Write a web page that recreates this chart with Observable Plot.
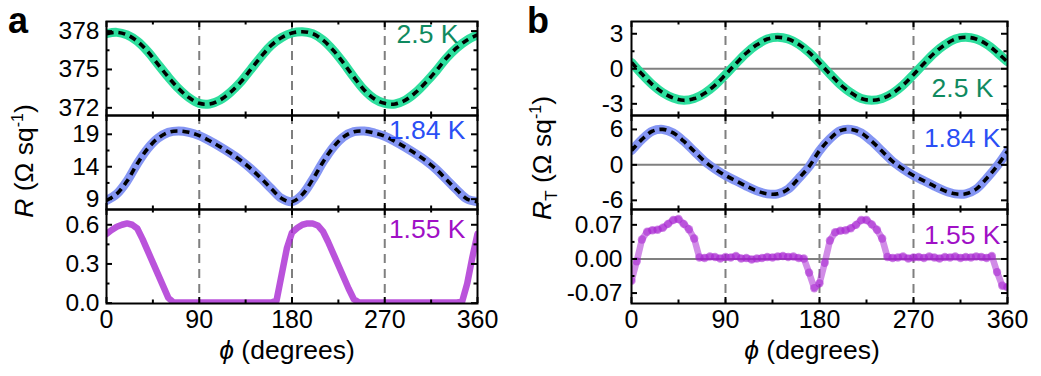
<!DOCTYPE html>
<html>
<head>
<meta charset="utf-8">
<script src="https://cdn.jsdelivr.net/npm/d3@7"></script>
<script src="https://cdn.jsdelivr.net/npm/@observablehq/plot@0.6"></script>
<style>
  html, body { margin: 0; padding: 0; background: #fff; }
  #root { position: relative; width: 1041px; height: 376px; overflow: hidden; font-family: "Liberation Sans", Arial, sans-serif; }
  #root svg { position: absolute; }
</style>
</head>
<body>
<div id="root"></div>
<script>
// ---------- data ----------
const phi10 = [0,10,20,30,40,50,60,70,80,90,100,110,120,130,140,150,160,170,180,190,200,210,220,230,240,250,260,270,280,290,300,310,320,330,340,350,360];
const phi5 = [0,5,10,15,20,25,30,35,40,45,50,55,60,65,70,75,80,85,90,95,100,105,110,115,120,125,130,135,140,145,150,155,160,165,170,175,180,185,190,195,200,205,210,215,220,225,230,235,240,245,250,255,260,265,270,275,280,285,290,295,300,305,310,315,320,325,330,335,340,345,350,355,360];

// panel a : R (Ω sq^-1)
const a_25K = [377.8,377.9,377.7,377.2,376.4,375.4,374.4,373.5,372.8,372.35,372.3,372.6,373.2,374.0,375.0,376.0,376.9,377.5,377.85,377.95,377.8,377.3,376.5,375.5,374.4,373.4,372.7,372.35,372.3,372.6,373.2,374.0,374.9,375.9,376.7,377.3,377.7];
const a_184K = [8.8,9.8,11.8,14.5,16.8,18.4,19.3,19.5,19.3,18.8,18.0,17.1,16.1,15.0,13.7,12.2,10.6,9.1,8.6,9.7,12.0,14.7,17.0,18.6,19.4,19.5,19.2,18.7,17.9,17.0,16.0,14.9,13.6,12.0,10.4,9.0,8.6];
const a_155K = [0.53,0.56,0.585,0.60,0.61,0.60,0.57,0.49,0.40,0.31,0.22,0.13,0.04,0.005,0.005,0.005,0.005,0.005,0.005,0.005,0.005,0.005,0.005,0.005,0.005,0.005,0.005,0.005,0.005,0.005,0.005,0.005,0.005,0.02,0.22,0.42,0.54,0.575,0.60,0.61,0.61,0.595,0.55,0.47,0.38,0.29,0.20,0.11,0.03,0.005,0.005,0.005,0.005,0.005,0.005,0.005,0.005,0.005,0.005,0.005,0.005,0.005,0.005,0.005,0.005,0.005,0.005,0.005,0.005,0.01,0.15,0.35,0.53];

// panel b : R_T (Ω sq^-1)
const b_25K = [0.55,-0.45,-1.35,-2.05,-2.5,-2.7,-2.55,-2.1,-1.4,-0.5,0.45,1.35,2.05,2.55,2.7,2.55,2.1,1.4,0.5,-0.45,-1.35,-2.05,-2.55,-2.7,-2.55,-2.1,-1.4,-0.5,0.45,1.35,2.05,2.55,2.7,2.55,2.1,1.4,0.6];
const b_184K = [2.4,4.3,5.7,6.0,5.4,4.0,2.3,0.6,-0.7,-1.8,-2.7,-3.6,-4.4,-4.9,-4.9,-4.1,-2.3,-0.3,2.4,4.4,5.8,6.0,5.4,4.0,2.3,0.6,-0.7,-1.8,-2.7,-3.6,-4.4,-4.9,-4.9,-4.1,-2.3,-0.2,2.3];
const b_155K = [-0.045,-0.005,0.040,0.056,0.059,0.060,0.064,0.072,0.080,0.082,0.072,0.061,0.042,0.003,0.002,0.005,0.004,0.001,0.004,0.003,0.006,0.001,0.002,-0.001,0.001,0.002,0.004,0.003,0.005,0.006,0.004,0.005,0.002,0.001,-0.028,-0.060,-0.050,-0.008,0.038,0.055,0.058,0.059,0.063,0.070,0.080,0.080,0.071,0.060,0.042,0.004,0.002,0.003,0.005,0.001,0.003,0.004,0.002,0.005,0.003,0.001,0.004,0.003,0.005,0.002,0.004,0.003,0.005,0.004,0.002,0.006,-0.027,-0.055,-0.058];

// ticks
const xMajor = [0,90,180,270,360];
const xMinor = [45,135,225,315];
const xGuides = [90,180,270];
const a1Major = [372,375,378], a1Minor = [373.5,376.5];
const a2Major = [9,14,19], a2Minor = [11.5,16.5];
const a3Major = [0,0.3,0.6], a3Minor = [0.15,0.45];
const b1Major = [-3,0,3], b1Minor = [-1.5,1.5];
const b2Major = [-6,0,6], b2Minor = [-3,3];
const b3Major = [-0.07,0,0.07], b3Minor = [-0.035,0.035];

const tempLabels = ["2.5 K","1.84 K","1.55 K"];

// ---------- styles ----------
const FONT = '"Liberation Sans", Arial, sans-serif';
const YTICK_FS = 24.5, XTICK_FS = 25;
const GREEN = "#22dc98", GREEN_T = "#0f8a60";
const BLUE = "#7d8ff2", BLUE_T = "#2a4ff5";
const PURPLE = "#a319cf", PURPLE_T = "#a010c6";

const root = document.getElementById("root");
const rows = (xs, ys) => xs.map((p, i) => ({phi: p, v: ys[i]}));

function fitLayers(data, color) {
  return [
    Plot.line(data, {x: "phi", y: "v", stroke: color, strokeWidth: 9, strokeOpacity: 0.95, curve: "catmull-rom", clip: true}),
    Plot.line(data, {x: "phi", y: "v", stroke: "#000", strokeWidth: 3.6, strokeDasharray: "7,5", strokeLinecap: "butt", curve: "catmull-rom", clip: true})
  ];
}

function panel(o) {
  const mT = 4, mR = 8;
  const {left, top, plotW, plotH, mL, mB} = o;
  const marks = [
    Plot.ruleX(xGuides, {stroke: "#7f7f7f", strokeWidth: 2, strokeDasharray: "9,6"})
  ];
  if (o.zero) marks.push(Plot.ruleY([0], {stroke: "#808080", strokeWidth: 2}));
  marks.push(...o.layers);
  const tk = {stroke: "#000", strokeWidth: 2};
  marks.push(
    Plot.tickY(o.yMajor, {y: d => d, insetRight: plotW - 6, ...tk}),
    Plot.tickY(o.yMajor, {y: d => d, insetLeft: plotW - 6, ...tk}),
    Plot.tickY(o.yMinor, {y: d => d, insetRight: plotW - 3.5, ...tk}),
    Plot.tickY(o.yMinor, {y: d => d, insetLeft: plotW - 3.5, ...tk}),
    Plot.tickX(xMajor, {x: d => d, insetBottom: plotH - 6, ...tk}),
    Plot.tickX(xMajor, {x: d => d, insetTop: plotH - 6, ...tk}),
    Plot.tickX(xMinor, {x: d => d, insetBottom: plotH - 3.5, ...tk}),
    Plot.tickX(xMinor, {x: d => d, insetTop: plotH - 3.5, ...tk}),
    Plot.frame({stroke: "#000", strokeWidth: 2}),
    Plot.axisY(o.yMajor, {tickSize: 0, tickPadding: o.yPad, tickFormat: o.yFmt, label: null, fontSize: YTICK_FS}),
    Plot.text([o.label], {frameAnchor: o.labelAnchor, dx: o.labelDx, dy: o.labelDy, fill: o.labelColor,
      fontSize: 26.5, textAnchor: "end", lineAnchor: "middle"})
  );
  if (o.bottomAxis) marks.push(Plot.axisX(xMajor, {tickSize: 0, tickPadding: 7, label: null, fontSize: XTICK_FS}));
  const svg = Plot.plot({
    width: mL + plotW + mR, height: mT + plotH + mB,
    marginLeft: mL, marginRight: mR, marginTop: mT, marginBottom: mB,
    x: o.bottomAxis ? {domain: [0, 360]} : {domain: [0, 360], axis: null},
    y: {domain: o.yDomain},
    style: {fontFamily: FONT, fontSize: YTICK_FS + "px", color: "#000", background: "transparent", overflow: "visible"},
    marks
  });
  svg.style.left = (left - mL) + "px";
  svg.style.top = (top - mT) + "px";
  root.append(svg);
}

// ---------- panel a ----------
const aL = 106, aW = 371, bL = 631, bW = 376;
const T1 = 21, T2 = 115, T3 = 209, PH = 94;

panel({left: aL, top: T1, plotW: aW, plotH: PH, mL: 70, mB: 4, yDomain: [371.4, 378.75], yMajor: a1Major, yMinor: a1Minor,
  yFmt: d => d.toFixed(0), yPad: 7, layers: fitLayers(rows(phi10, a_25K), GREEN),
  label: tempLabels[0], labelColor: GREEN_T, labelAnchor: "top-right", labelDx: -19, labelDy: 13});
panel({left: aL, top: T2, plotW: aW, plotH: PH, mL: 70, mB: 4, yDomain: [7.4, 21.9], yMajor: a2Major, yMinor: a2Minor,
  yFmt: d => d.toFixed(0), yPad: 7, layers: fitLayers(rows(phi10, a_184K), BLUE),
  label: tempLabels[1], labelColor: BLUE_T, labelAnchor: "top-right", labelDx: -12, labelDy: 15});
panel({left: aL, top: T3, plotW: aW, plotH: PH, mL: 70, mB: 40, yDomain: [-0.003, 0.717], yMajor: a3Major, yMinor: a3Minor,
  yFmt: d => d.toFixed(1), yPad: 7, bottomAxis: true,
  layers: [Plot.line(rows(phi5, a_155K), {x: "phi", y: "v", stroke: PURPLE, strokeWidth: 6.5, strokeOpacity: 0.75, clip: true})],
  label: tempLabels[2], labelColor: PURPLE_T, labelAnchor: "top-right", labelDx: -12, labelDy: 20});

// ---------- panel b ----------
panel({left: bL, top: T1, plotW: bW, plotH: PH, mL: 90, mB: 4, yDomain: [-4.0, 4.05], yMajor: b1Major, yMinor: b1Minor,
  yFmt: d => d.toFixed(0), yPad: 8, zero: true, layers: fitLayers(rows(phi10, b_25K), GREEN),
  label: tempLabels[0], labelColor: GREEN_T, labelAnchor: "bottom-right", labelDx: -14, labelDy: -27});
panel({left: bL, top: T2, plotW: bW, plotH: PH, mL: 90, mB: 4, yDomain: [-7.55, 8.35], yMajor: b2Major, yMinor: b2Minor,
  yFmt: d => d.toFixed(0), yPad: 8, zero: true, layers: fitLayers(rows(phi10, b_184K), BLUE),
  label: tempLabels[1], labelColor: BLUE_T, labelAnchor: "top-right", labelDx: -7, labelDy: 23});
panel({left: bL, top: T3, plotW: bW, plotH: PH, mL: 90, mB: 40, yDomain: [-0.0914, 0.1015], yMajor: b3Major, yMinor: b3Minor,
  yFmt: d => d.toFixed(2), yPad: 9, zero: true, bottomAxis: true,
  layers: [
    Plot.line(rows(phi5, b_155K), {x: "phi", y: "v", stroke: PURPLE, strokeWidth: 6.5, strokeOpacity: 0.5, clip: true}),
    Plot.dot(rows(phi5, b_155K), {x: "phi", y: "v", r: 4.2, fill: PURPLE, fillOpacity: 0.5, stroke: "none", clip: true})
  ],
  label: tempLabels[2], labelColor: PURPLE_T, labelAnchor: "top-right", labelDx: -7, labelDy: 26});

// ---------- titles ----------
const ov = d3.select(root).append("svg")
  .attr("width", 1041).attr("height", 376)
  .style("left", "0px").style("top", "0px").style("pointer-events", "none")
  .style("font-family", FONT);

ov.append("text").attr("x", 8).attr("y", 33).attr("font-size", 36).attr("font-weight", "bold").text("a");
ov.append("text").attr("x", 527).attr("y", 33).attr("font-size", 36).attr("font-weight", "bold").text("b");

function yTitle(x, y, sub) {
  const t = ov.append("text").attr("transform", `translate(${x},${y}) rotate(-90)`)
    .attr("text-anchor", "middle").attr("font-size", 26.5);
  t.append("tspan").attr("font-style", "italic").text("R");
  if (sub) t.append("tspan").attr("font-size", 17).attr("dy", 6).text(sub);
  t.append("tspan").attr("dy", sub ? -6 : 0).text("\u00a0(\u03a9 sq");
  t.append("tspan").attr("font-size", 16).attr("dy", -10).text("-1");
  t.append("tspan").attr("dy", 10).text(")");
}
yTitle(33, 161, null);
yTitle(551, 158, "T");

function xTitle(x) {
  const t = ov.append("text").attr("x", x).attr("y", 359).attr("text-anchor", "middle").attr("font-size", 26.5);
  t.append("tspan").attr("font-style", "italic").text("\u03d5");
  t.append("tspan").text(" (degrees)");
}
xTitle(287);
xTitle(812);
</script>
</body>
</html>
